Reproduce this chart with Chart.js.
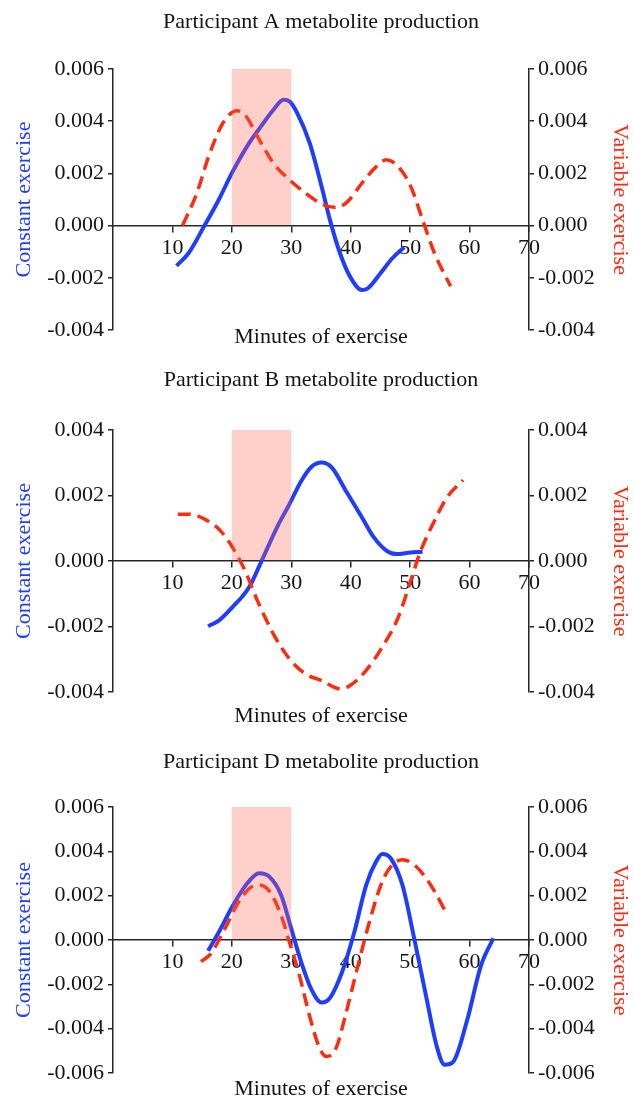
<!DOCTYPE html>
<html><head><meta charset="utf-8">
<script src="https://cdn.jsdelivr.net/npm/chart.js@4.4.1/dist/chart.umd.min.js"></script>
<style>
html,body{margin:0;padding:0;background:#fff;}
#wrap{position:relative;width:633px;height:1097px;overflow:hidden;background:#fff;}
.box{position:absolute;left:0;width:633px;}
canvas{display:block;}
</style></head><body>
<div id="wrap">
<div class="box" style="top:0;height:360px"><canvas id="cA" width="633" height="360"></canvas></div>
<div class="box" style="top:360px;height:380px"><canvas id="cB" width="633" height="380"></canvas></div>
<div class="box" style="top:740px;height:357px"><canvas id="cD" width="633" height="357"></canvas></div>
</div>
<script>
// ---------- data ----------
const minuteTicks = [10, 20, 30, 40, 50, 60, 70];
const shadeStart = 20;
const shadeEnd = 30;

const titleA = 'Participant A metabolite production';
const titleB = 'Participant B metabolite production';
const titleD = 'Participant D metabolite production';
const xTitle = 'Minutes of exercise';
const leftTitle = 'Constant exercise';
const rightTitle = 'Variable exercise';

const ticksA = [-0.004, -0.002, 0, 0.002, 0.004, 0.006];
const ticksB = [-0.004, -0.002, 0, 0.002, 0.004];
const ticksD = [-0.006, -0.004, -0.002, 0, 0.002, 0.004, 0.006];

const aConstX = [10.7, 12.7, 15.4, 17.8, 20, 22.9, 24.9, 27, 28.7, 29.7, 31, 33.1, 35.1, 36.5, 38.2, 39.9, 41.9, 42.9, 45, 47, 49];
const aConstY = [-0.00154, -0.00106, 0, 0.00099, 0.00201, 0.00316, 0.0038, 0.00444, 0.00482, 0.00476, 0.00431, 0.00316, 0.0015, 0.00022, -0.00106, -0.00196, -0.00247, -0.0024, -0.00183, -0.00125, -0.00083];
const aVarX = [11.7, 14.1, 16.1, 18.5, 20.9, 22.2, 24.3, 27, 29.7, 32.4, 35.1, 37.2, 39.2, 41.9, 44.3, 46, 48, 50.1, 52.1, 54.1, 56.8];
const aVarY = [0, 0.00124, 0.00265, 0.00393, 0.0044, 0.00425, 0.00342, 0.00239, 0.00175, 0.00124, 0.00083, 0.0007, 0.00086, 0.00163, 0.00226, 0.00252, 0.00226, 0.0015, 0.00022, -0.00106, -0.00232];

const bConstX = [16, 17.8, 20.1, 22.9, 24.9, 27.6, 29.7, 31.7, 33.4, 35.1, 36.8, 39.2, 41.9, 43.9, 46, 47.7, 50.1, 52.1];
const bConstY = [-0.00199, -0.00182, -0.00141, -0.0008, -0.00004, 0.00103, 0.00174, 0.00245, 0.00288, 0.00301, 0.00286, 0.00214, 0.00133, 0.00072, 0.00032, 0.00021, 0.00026, 0.00028];
const bVarX = [10.9, 12.7, 15.4, 18.1, 20.1, 22.2, 24.3, 27, 29.7, 32.4, 35.1, 38.2, 39.9, 42.6, 45.3, 48, 50.1, 51.8, 54.1, 56.2, 58.9];
const bVarY = [0.00143, 0.00143, 0.00128, 0.00092, 0.00042, -0.00029, -0.00121, -0.00223, -0.00299, -0.00345, -0.00365, -0.0039, -0.0038, -0.00334, -0.00263, -0.00172, -0.0006, 0.00032, 0.00123, 0.00194, 0.00247];

const dConstX = [16, 17.8, 20.2, 22.6, 24.6, 26.3, 28.3, 30, 31.7, 33.4, 35.1, 36.5, 38.5, 40.6, 42.6, 44.3, 45.3, 46.7, 48.7, 50.7, 52.8, 54.5, 55.8, 57.2, 59.6, 61.9, 64];
const dConstY = [-0.00049, 0.00035, 0.00157, 0.00256, 0.00301, 0.00286, 0.00202, 0.0005, -0.00102, -0.00224, -0.00282, -0.00262, -0.00148, 0.00035, 0.00248, 0.00355, 0.00388, 0.0037, 0.00248, 0.00005, -0.00269, -0.00482, -0.00563, -0.00551, -0.00361, -0.00117, 0.00008];
const dVarX = [14.8, 16.4, 18.8, 21.5, 24.2, 25.9, 28.3, 29.7, 31.4, 33.1, 34.8, 35.9, 37.5, 39.2, 41.2, 43.3, 45.3, 47, 48.7, 50.7, 53.1, 54.8, 56.2];
const dVarY = [-0.00097, -0.00064, 0.0005, 0.00187, 0.00248, 0.00233, 0.00111, -0.00011, -0.00163, -0.00345, -0.0049, -0.00525, -0.0049, -0.0033, -0.00117, 0.00096, 0.00263, 0.00339, 0.00362, 0.00339, 0.00263, 0.00187, 0.00114];

// ---------- styling ----------
const BLUE = '#1f3dff';
const RED = '#ff2a10';
const INK = '#141414';
const AXIS = '#262626';
const FONT = "'Liberation Serif', 'Times New Roman', Times, serif";
Chart.defaults.font.family = FONT;
Chart.defaults.font.size = 22;
Chart.defaults.color = INK;

function toXY(xs, ys) { return xs.map((x, i) => ({ x: x, y: ys[i] })); }
function fmt(v) { return Math.abs(v) < 1e-9 ? '0.000' : v.toFixed(3); }

const shadePlugin = {
  id: 'shade',
  afterDatasetsDraw(chart) {
    const { ctx } = chart;
    const x = chart.scales.x, y = chart.scales.y;
    const x0 = x.getPixelForValue(shadeStart), x1 = x.getPixelForValue(shadeEnd);
    const yTop = y.getPixelForValue(y.max), yZero = y.getPixelForValue(0) - 0.75;
    ctx.save();
    ctx.fillStyle = 'rgba(255,100,80,0.3)';
    ctx.fillRect(x0, yTop, x1 - x0, yZero - yTop);
    ctx.restore();
  }
};

const textPlugin = {
  id: 'texts',
  afterDraw(chart) {
    const o = chart.options.plugins.texts;
    const { ctx, chartArea } = chart;
    const cx = (chartArea.left + chartArea.right) / 2;
    const cy = (chartArea.top + chartArea.bottom) / 2;
    ctx.save();
    ctx.font = '22px ' + FONT;
    ctx.textAlign = 'center';
    ctx.textBaseline = 'alphabetic';
    ctx.fillStyle = INK;
    ctx.fillText(o.title, cx, o.titleBase);
    ctx.fillText(xTitle, cx, chartArea.bottom + o.xTitleOffset);
    ctx.save();
    ctx.translate(30, cy);
    ctx.rotate(-Math.PI / 2);
    ctx.fillStyle = BLUE;
    ctx.fillText(leftTitle, 0, 0);
    ctx.restore();
    ctx.save();
    ctx.translate(614, cy);
    ctx.rotate(Math.PI / 2);
    ctx.fillStyle = RED;
    ctx.fillText(rightTitle, 0, 0);
    ctx.restore();
    ctx.restore();
  }
};

function yScale(pos, ticks, width) {
  return {
    type: 'linear', position: pos,
    min: ticks[0], max: ticks[ticks.length - 1],
    afterBuildTicks: s => { s.ticks = ticks.map(v => ({ value: v })); },
    afterFit: s => { s.width = width; },
    grid: { display: true, drawOnChartArea: false, drawTicks: true, tickLength: 5, color: AXIS, lineWidth: 1.5 },
    border: { display: true, color: AXIS, width: 1.5 },
    ticks: { padding: 4, color: INK, font: { size: 22 }, callback: v => fmt(v) }
  };
}

function makeChart(id, cfg) {
  return new Chart(document.getElementById(id), {
    type: 'line',
    data: {
      datasets: [
        { label: rightTitle, data: toXY(cfg.varX, cfg.varY), yAxisID: 'y2', borderColor: RED, borderWidth: 3.5, borderDash: [13, 7], pointRadius: 0, cubicInterpolationMode: 'monotone', fill: false },
        { label: leftTitle, data: toXY(cfg.conX, cfg.conY), yAxisID: 'y', borderColor: BLUE, borderWidth: 4, pointRadius: 0, cubicInterpolationMode: 'monotone', fill: false }
      ]
    },
    options: {
      responsive: false, animation: false, devicePixelRatio: 1,
      layout: { padding: { top: cfg.padTop, bottom: cfg.padBottom, left: 0, right: 0 } },
      plugins: {
        legend: { display: false }, tooltip: { enabled: false }, title: { display: false },
        texts: { title: cfg.title, titleBase: cfg.titleBase, xTitleOffset: cfg.xTitleOffset }
      },
      scales: {
        x: {
          type: 'linear', min: 0, max: 70, position: { y: 0 },
          afterBuildTicks: s => { s.ticks = minuteTicks.map(v => ({ value: v })); },
          grid: { display: true, drawOnChartArea: false, drawTicks: true, tickLength: 6, color: AXIS, lineWidth: 1.5 },
          border: { display: true, color: AXIS, width: 1.5 },
          ticks: { padding: 3, maxRotation: 0, autoSkip: false, color: INK, font: { size: 22 }, callback: v => String(v) }
        },
        y: yScale('left', cfg.ticks, 113),
        y2: yScale('right', cfg.ticks, 104)
      }
    },
    plugins: [shadePlugin, textPlugin]
  });
}

makeChart('cA', { title: titleA, titleBase: 28, xTitleOffset: 13, padTop: 69, padBottom: 30, ticks: ticksA, conX: aConstX, conY: aConstY, varX: aVarX, varY: aVarY });
makeChart('cB', { title: titleB, titleBase: 26, xTitleOffset: 30, padTop: 70, padBottom: 48, ticks: ticksB, conX: bConstX, conY: bConstY, varX: bVarX, varY: bVarY });
makeChart('cD', { title: titleD, titleBase: 28, xTitleOffset: 22, padTop: 67, padBottom: 24, ticks: ticksD, conX: dConstX, conY: dConstY, varX: dVarX, varY: dVarY });
</script>
</body></html>
